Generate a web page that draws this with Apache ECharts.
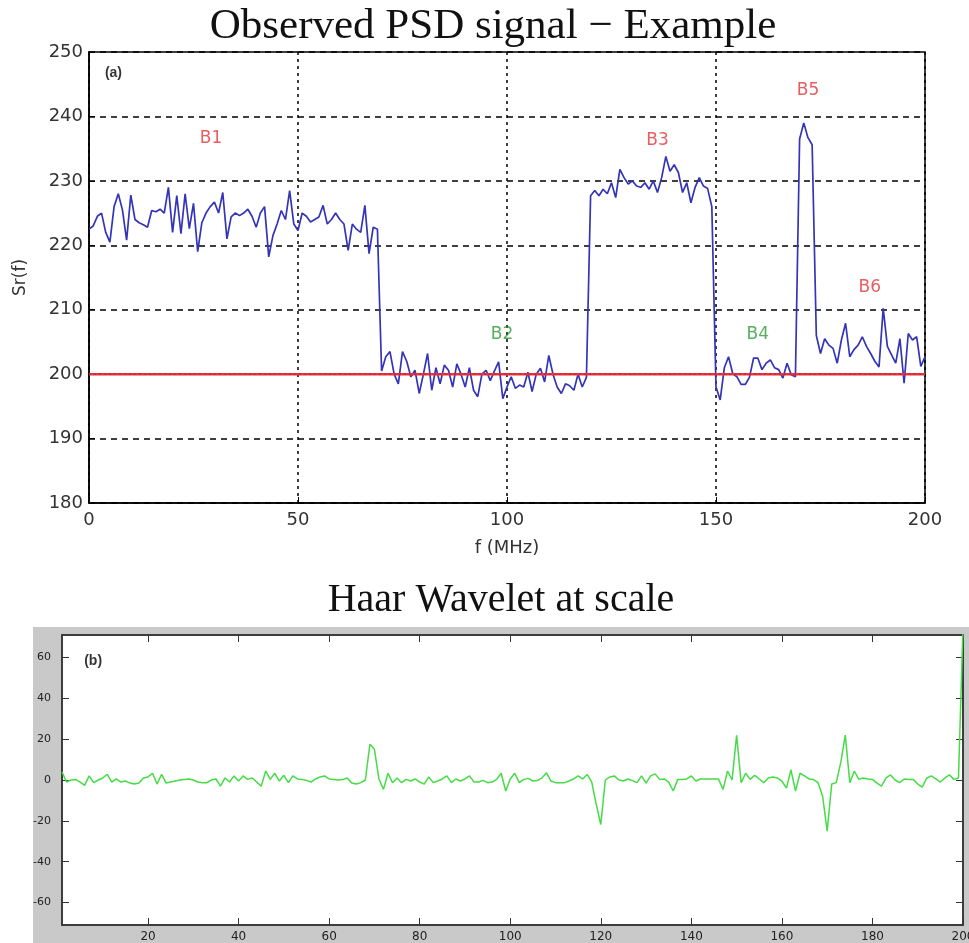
<!DOCTYPE html>
<html>
<head>
<meta charset="utf-8">
<script src="https://cdn.jsdelivr.net/npm/echarts@6/dist/echarts.min.js"></script>
<style>
html,body{margin:0;padding:0;background:#fff;}
#chart{width:969px;height:943px;}
</style>
</head>
<body>
<div id="chart"></div>
<script>
// ---------- Data ----------
const psdFreqStart = 0;   // MHz, step 1 MHz
const psdValues = [
  222.5, 223, 224.5, 225, 222, 220.5, 226, 228, 225.5, 220.8,
  227.8, 224, 223.5, 223.2, 222.8, 225.4, 225.2, 225.6, 225, 229,
  222, 227.7, 221.8, 228, 222.6, 226.5, 219, 223.5, 225, 226,
  226.7, 225, 228.2, 221, 224.4, 225, 224.6, 225, 225.6, 224.5,
  222.8, 225, 226, 218.2, 221.5, 223.3, 225.4, 224, 228.5, 223.3,
  222.3, 225, 224.5, 223.6, 224, 224.4, 226.2, 223.3, 224, 225,
  224, 223.3, 219.2, 223.3, 222.5, 222, 226.2, 218.7, 222.8, 222.5,
  200.5, 202.7, 203.5, 200, 198.5, 203.5, 202, 199.6, 200.6, 197,
  200, 203.2, 197.5, 201, 198.5, 201.4, 200.6, 198, 201.6, 200,
  198, 201, 197.5, 196.5, 200, 200.6, 199, 200.5, 201.9, 196.2,
  198, 199.6, 197.8, 198.3, 198, 200.3, 197.3, 200, 200.9, 198.8,
  202.9, 200, 198, 197, 198.5, 198.2, 197.5, 200, 198, 199.5,
  227.7, 228.5, 227.7, 228.7, 228, 229.7, 227.4, 231.8, 230.5, 229.5,
  230, 229.2, 229, 229.7, 228.7, 230, 228.2, 230.5, 233.8, 231.5,
  232.5, 231.3, 228.2, 229.7, 226.6, 229, 230.5, 229.2, 228.8, 226,
  198, 196, 201, 202.7, 200.1, 199.6, 198.4, 198.4, 199.5, 202.5,
  202.5, 200.7, 201.7, 202.2, 201, 200.7, 199.4, 201.7, 199.9, 199.6,
  236.5, 239, 236.7, 235.6, 206, 203.2, 205.5, 204.5, 204, 201.7,
  205.3, 207.9, 202.7, 203.8, 204.5, 205.8, 204.3, 203.2, 202, 201.1,
  210.2, 204.3, 203, 201.7, 205.5, 198.6, 206.3, 205.3, 205.8, 201.2,
  202.7
];
const thresholdLevel = 200;
const thresholdRange = [0, 200];

const bandLabels = ['B1', 'B2', 'B3', 'B4', 'B5', 'B6'];
const bandLabelFreq = [29.2, 98.8, 136, 160, 172, 186.8];
const bandLabelLevel = [236.6, 206.2, 236.3, 206.2, 244, 213.5];
const bandLabelKind = ['occupied', 'free', 'occupied', 'free', 'occupied', 'occupied'];

const psdXTicks = [0, 50, 100, 150, 200];
const psdYTicks = [180, 190, 200, 210, 220, 230, 240, 250];

const haarStart = 1;   // step 1
const haarValues = [
  4, -1, 0, 0.3, -1, -2.6, 2, -1.3, 0, 1,
  2.8, -1, 0.5, -1, -0.5, -1.5, -2, -1.5, 1, 1.5,
  3.3, -2, 2.8, -1.5, -1, -0.5, 0, 0.3, 0.5, 0,
  -1, -1.3, -1.3, 0, 0.5, -3, 1, -1, 2, -0.5,
  2, 0.3, 1, -1, -3, 4.4, 0.3, 3.3, -0.5, 2.3,
  -1.3, 2, 0.5, 0.3, -0.2, -1, 0.5, 1.5, 2, 0.5,
  0.3, 0, 0.2, 1, -1.5, -2, -1.3, 0, 17.5, 15,
  0.5, -4.6, 3.3, -1.3, 1, -1.3, 0.3, -0.5, 0.5, -1,
  -2, 1.5, -1.3, -0.5, 0.5, 2, -1.3, 0.5, -0.5, 0.5,
  2, -1, -1, -0.2, -1.3, -1, 0.3, 3.3, -5.4, 0.5,
  3.3, -1.3, 0.3, 0.8, -0.5, -0.3, 1, 3.5, -0.5, -1.3,
  -1.3, -1.3, -0.5, 0.5, 2, 0.5, 2.7, -1, -11.9, -21.8,
  0, 1.5, 2, 0, -0.5, 0.5, -0.3, -1.3, 2, -1.5,
  2, 3, 0.3, 0.5, -1, -5.4, 0.3, 0.3, 0.5, 2,
  -0.5, 0.5, 0.5, 0.5, 0.5, 0.5, -4.6, 4.4, 0, 21.9,
  -1.3, 3.3, 0.3, 2.3, 0.5, -1.3, 1, 1.5, 1, -0.5,
  -4, 5, -5.4, 3.3, 2, 0.5, 0.2, -1.3, -8, -25,
  -2, -1.3, 8.5, 22, -1.3, 4.4, 0.3, 1, 0.5, 0.3,
  -1.5, -3, 1, 2.5, 0, -1.3, 0.5, 0.3, 0.3, -2,
  -3.5, 1, 2, 0.5, -1, 1, 2.5, 0.3, 1, 75
];
const haarXTicks = [20, 40, 60, 80, 100, 120, 140, 160, 180, 200];
const haarYTicks = [-60, -40, -20, 0, 20, 40, 60];

// ---------- Build ----------
const psdData = psdValues.map((v, i) => [psdFreqStart + i, v]);
const haarData = haarValues.map((v, i) => [haarStart + i, v]);
const thresholdData = thresholdRange.map(f => [f, thresholdLevel]);
const labelColors = { occupied: '#e3343a', free: '#2c9a36' };
const bandLabelData = bandLabels.map((name, i) => ({
  name: name,
  value: [bandLabelFreq[i], bandLabelLevel[i]],
  label: { color: labelColors[bandLabelKind[i]] }
}));

const chart = echarts.init(document.getElementById('chart'), null, { renderer: 'canvas' });

const font = 'DejaVu Sans';

const option = {
  backgroundColor: '#ffffff',
  animation: false,
  graphic: [
    { type: 'rect', z: -10, shape: { x: 33, y: 627, width: 940, height: 320 }, style: { fill: '#c9c9c9' } },
    { type: 'text', x: 493, y: 27, style: { text: 'Observed PSD signal \u2212 Example', font: '43px "Liberation Serif"', fill: '#111', align: 'center', verticalAlign: 'middle' }, z: 10 },
    { type: 'text', x: 501, y: 600, style: { text: 'Haar Wavelet at scale', font: '40px "Liberation Serif"', fill: '#111', align: 'center', verticalAlign: 'middle' }, z: 10 }
  ],
  grid: [
    { left: 89, right: 44, top: 52, height: 451, outerBoundsMode: 'none', containLabel: false, show: true, borderColor: '#000', borderWidth: 1.5, backgroundColor: '#fff' },
    { left: 62, right: 6, top: 635, height: 290, outerBoundsMode: 'none', containLabel: false, show: true, borderColor: '#333', borderWidth: 1.5, backgroundColor: '#fff' }
  ],
  xAxis: [
    {
      gridIndex: 0, type: 'value', min: 0, max: 200, interval: 50,
      name: 'f (MHz)', nameLocation: 'middle', nameGap: 36,
      nameTextStyle: { fontFamily: font, fontSize: 18, color: '#333' },
      axisLine: { show: true, lineStyle: { color: '#000', width: 1.5 } },
      axisTick: { show: true, inside: true, length: 6, lineStyle: { color: '#000' } },
      axisLabel: { fontFamily: font, fontSize: 18, color: '#333', margin: 8 },
      splitLine: { show: true, lineStyle: { color: '#000', type: [3, 4], width: 1.5 } }
    },
    {
      gridIndex: 1, type: 'value', min: 1, max: 200,
      axisLine: { show: true, onZero: false, lineStyle: { color: '#333', width: 1.5 } },
      axisTick: { show: true, inside: true, length: 7, customValues: haarXTicks, lineStyle: { color: '#333' } },
      axisLabel: { fontFamily: font, fontSize: 12, color: '#222', margin: 6, customValues: haarXTicks },
      splitLine: { show: false }
    },
    {
      gridIndex: 1, type: 'value', min: 1, max: 200, position: 'top',
      axisLine: { show: true, onZero: false, lineStyle: { color: '#333', width: 1.5 } },
      axisTick: { show: true, inside: true, length: 7, customValues: haarXTicks, lineStyle: { color: '#333' } },
      axisLabel: { show: false },
      splitLine: { show: false }
    }
  ],
  yAxis: [
    {
      gridIndex: 0, type: 'value', min: 180, max: 250, interval: 10,
      name: 'Sr(f)', nameLocation: 'middle', nameGap: 60,
      nameTextStyle: { fontFamily: font, fontSize: 17, color: '#333' },
      axisLine: { show: true, lineStyle: { color: '#000', width: 1.5 } },
      axisTick: { show: true, inside: true, length: 6, lineStyle: { color: '#000' } },
      axisLabel: { fontFamily: font, fontSize: 18, color: '#333', margin: 6 },
      splitLine: { show: true, lineStyle: { color: '#000', type: [6, 5], width: 1.5 } }
    },
    {
      gridIndex: 1, type: 'value', min: -71, max: 71,
      axisLine: { show: true, onZero: false, lineStyle: { color: '#333', width: 1.5 } },
      axisTick: { show: true, inside: true, length: 7, customValues: haarYTicks, lineStyle: { color: '#333' } },
      axisLabel: { fontFamily: font, fontSize: 11, color: '#222', margin: 11, customValues: haarYTicks },
      splitLine: { show: false }
    },
    {
      gridIndex: 1, type: 'value', min: -71, max: 71, position: 'right',
      axisLine: { show: true, onZero: false, lineStyle: { color: '#333', width: 1.5 } },
      axisTick: { show: true, inside: true, length: 7, customValues: haarYTicks, lineStyle: { color: '#333' } },
      axisLabel: { show: false },
      splitLine: { show: false }
    }
  ],
  series: [
    {
      type: 'line', xAxisIndex: 0, yAxisIndex: 0, data: psdData,
      showSymbol: false, symbol: 'none', clip: true,
      lineStyle: { color: '#3434b8', width: 1.7 }, z: 3
    },
    {
      type: 'line', xAxisIndex: 0, yAxisIndex: 0, data: thresholdData,
      showSymbol: false, symbol: 'none',
      lineStyle: { color: '#e8333f', width: 2.5 }, z: 4
    },
    {
      type: 'line', xAxisIndex: 0, yAxisIndex: 0, data: thresholdData,
      showSymbol: false, symbol: 'none',
      lineStyle: { color: '#a32a35', width: 1, type: [2, 3] }, z: 5
    },
    {
      type: 'scatter', xAxisIndex: 0, yAxisIndex: 0, data: bandLabelData,
      symbolSize: 0, silent: true, z: 6,
      label: { show: true, position: 'inside', formatter: '{b}', fontFamily: font, fontSize: 17 }
    },
    {
      type: 'scatter', xAxisIndex: 0, yAxisIndex: 0,
      data: [{ name: '(a)', value: [3.8, 246.7] }],
      symbolSize: 0, silent: true, z: 6,
      label: { show: true, position: 'right', distance: 0, formatter: '{b}', fontFamily: 'Liberation Sans', fontWeight: 'bold', fontSize: 14, color: '#000' }
    },
    {
      type: 'line', xAxisIndex: 1, yAxisIndex: 1, data: haarData,
      showSymbol: false, symbol: 'none', clip: true,
      lineStyle: { color: '#45dc45', width: 1.5 }, z: 3
    },
    {
      type: 'scatter', xAxisIndex: 1, yAxisIndex: 1,
      data: [{ name: '(b)', value: [5.9, 58] }],
      symbolSize: 0, silent: true, z: 6,
      label: { show: true, position: 'right', distance: 0, formatter: '{b}', fontFamily: 'Liberation Sans', fontWeight: 'bold', fontSize: 14, color: '#000' }
    }
  ]
};
chart.setOption(option);
</script>
</body>
</html>
